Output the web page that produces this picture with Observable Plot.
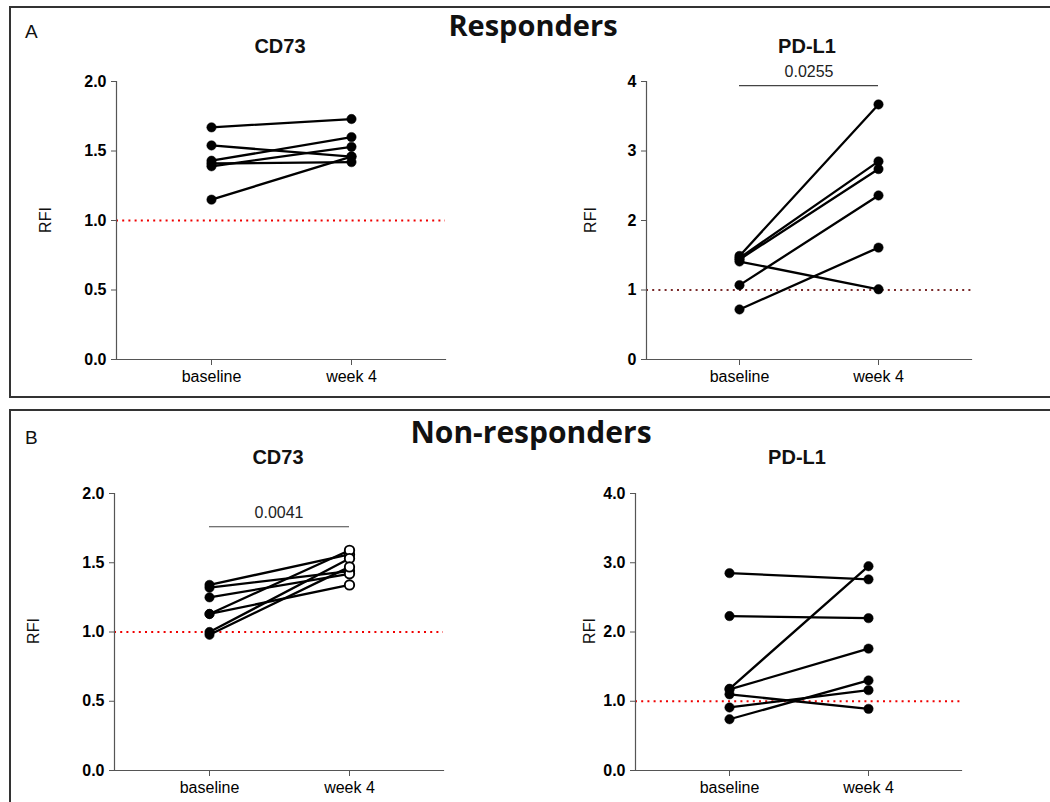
<!DOCTYPE html>
<html>
<head>
<meta charset="utf-8">
<script src="https://cdn.jsdelivr.net/npm/d3@7"></script>
<script src="https://cdn.jsdelivr.net/npm/@observablehq/plot@0.6"></script>
<style>
  html, body { margin: 0; padding: 0; background: #fff; }
  #figure { position: relative; width: 1050px; height: 802px; overflow: hidden; background: #fff;
            font-family: "Liberation Sans", Arial, sans-serif; }
  #figure > svg.panel { position: absolute; overflow: visible; }
  #overlay { position: absolute; left: 0; top: 0; }
</style>
</head>
<body>
<div id="figure"></div>
<script>
// Time points on the x axis
const timepoints = ["baseline", "week 4"];

// Responders: CD73 RFI per patient
const respCD73Baseline = [1.67, 1.54, 1.43, 1.41, 1.39, 1.15];
const respCD73Week4    = [1.73, 1.46, 1.60, 1.42, 1.53, 1.46];

// Responders: PD-L1 RFI per patient
const respPDL1Baseline = [1.49, 1.46, 1.44, 1.41, 1.07, 0.72];
const respPDL1Week4    = [3.67, 2.85, 2.74, 1.01, 2.36, 1.61];

// Non-responders: CD73 RFI per patient
const nonCD73Baseline = [1.34, 1.32, 1.25, 1.13, 1.13, 1.00, 0.98];
const nonCD73Week4    = [1.56, 1.44, 1.42, 1.59, 1.34, 1.53, 1.47];

// Non-responders: PD-L1 RFI per patient
const nonPDL1Baseline = [2.85, 2.23, 1.18, 1.17, 1.10, 0.91, 0.74];
const nonPDL1Week4    = [2.76, 2.20, 2.95, 1.76, 0.89, 1.16, 1.30];

// Paired-test p values
const pRespPDL1 = "0.0255";
const pNonCD73 = "0.0041";

// Y tick values
const ticksCD73 = [0, 0.5, 1, 1.5, 2];
const ticksPDL1 = [0, 1, 2, 3, 4];

function pairs(before, after) {
  const rows = [];
  before.forEach((v, i) => {
    rows.push({id: i, time: timepoints[0], rfi: v});
    rows.push({id: i, time: timepoints[1], rfi: after[i]});
  });
  return rows;
}

const fig = document.getElementById("figure");
const FONT = '"Liberation Sans", Arial, sans-serif';

function panel(o) {
  const rows = pairs(o.before, o.after);
  const marks = [
    Plot.ruleY([1], {stroke: o.refColor, strokeWidth: 2, strokeDasharray: "2,4.2"}),
    Plot.frame({anchor: "left", stroke: "#555", strokeWidth: 1.2}),
    Plot.frame({anchor: "bottom", stroke: "#555", strokeWidth: 1.2}),
    Plot.axisY({ticks: o.ticks, tickFormat: o.fmt, tickSize: 5, tickPadding: 5, stroke: "#555",
                fill: "black", fontSize: 16, fontWeight: "bold", label: null}),
    Plot.axisX({tickSize: 6, tickPadding: 5, stroke: "#555", fill: "black", fontSize: 16, label: null}),
    Plot.line(rows, {x: "time", y: "rfi", z: "id", stroke: "black", strokeWidth: 2.3}),
    Plot.dot(rows, {x: "time", y: "rfi", r: 4.7,
      fill: d => (o.openAfter && d.time === timepoints[1]) ? "white" : "black",
      stroke: "black", strokeWidth: d => (o.openAfter && d.time === timepoints[1]) ? 1.9 : 0.5})
  ];
  if (o.p) {
    const br = [{y: o.bracketY, a: timepoints[0], b: timepoints[1], label: o.p}];
    marks.push(Plot.ruleY(br, {y: "y", x1: "a", x2: "b", stroke: "#444", strokeWidth: 1.1}));
    marks.push(Plot.text(br, {y: "y", text: "label", dy: -14, fontSize: 16, fill: "#222"}));
  }
  const svg = Plot.plot({
    width: o.width, height: o.height,
    marginLeft: o.mL, marginRight: o.mR, marginTop: o.mT, marginBottom: o.mB,
    style: {fontFamily: FONT, background: "transparent", color: "black", overflow: "visible"},
    x: {type: "point", domain: timepoints, padding: 0.667},
    y: {domain: o.yDomain},
    marks
  });
  svg.classList.add("panel");
  svg.style.left = o.left + "px";
  svg.style.top = o.top + "px";
  fig.appendChild(svg);
}

// A – Responders
panel({before: respCD73Baseline, after: respCD73Week4, yDomain: [0, 2], ticks: ticksCD73, fmt: d3.format(".1f"),
  left: 60, top: 60, width: 400, height: 330, mL: 56, mR: 15, mT: 21, mB: 31, refColor: "#f00000"});
panel({before: respPDL1Baseline, after: respPDL1Week4, yDomain: [0, 4], ticks: ticksPDL1, fmt: d3.format("d"),
  left: 560, top: 60, width: 490, height: 330, mL: 86, mR: 79, mT: 21, mB: 31, refColor: "#7a2a2a",
  p: pRespPDL1, bracketY: 3.94});

// B – Non-responders
panel({before: nonCD73Baseline, after: nonCD73Week4, yDomain: [0, 2], ticks: ticksCD73, fmt: d3.format(".1f"),
  left: 60, top: 470, width: 400, height: 332, mL: 54, mR: 17, mT: 23, mB: 32, refColor: "#f00000",
  openAfter: true, p: pNonCD73, bracketY: 1.76});
panel({before: nonPDL1Baseline, after: nonPDL1Week4, yDomain: [0, 4], ticks: ticksPDL1, fmt: d3.format(".1f"),
  left: 560, top: 470, width: 490, height: 332, mL: 75, mR: 89, mT: 23, mB: 32, refColor: "#f00000"});

// Panel boxes, panel letters, group titles, marker titles and axis titles
const ov = d3.select(fig).append("svg").attr("id", "overlay")
  .attr("width", 1050).attr("height", 802).style("pointer-events", "none");

ov.append("rect").attr("x", 10).attr("y", 7).attr("width", 1100).attr("height", 390)
  .attr("fill", "none").attr("stroke", "#333").attr("stroke-width", 2);
ov.append("rect").attr("x", 10).attr("y", 410).attr("width", 1100).attr("height", 420)
  .attr("fill", "none").attr("stroke", "#333").attr("stroke-width", 2);

const texts = [
  {t: "A", x: 25, y: 38, size: 19, weight: "normal", anchor: "start", font: FONT},
  {t: "B", x: 25, y: 444, size: 19, weight: "normal", anchor: "start", font: FONT},
  {t: "Responders", x: 533, y: 36, size: 29, weight: "bold", anchor: "middle", font: '"Open Sans", sans-serif'},
  {t: "Non-responders", x: 531, y: 443, size: 30, weight: "bold", anchor: "middle", font: '"Open Sans", sans-serif'},
  {t: "CD73", x: 280, y: 53, size: 20, weight: "bold", anchor: "middle", font: FONT},
  {t: "PD-L1", x: 807, y: 53, size: 20, weight: "bold", anchor: "middle", font: FONT},
  {t: "CD73", x: 278, y: 464, size: 20, weight: "bold", anchor: "middle", font: FONT},
  {t: "PD-L1", x: 797, y: 464, size: 20, weight: "bold", anchor: "middle", font: FONT}
];
texts.forEach(d => {
  ov.append("text").attr("x", d.x).attr("y", d.y).text(d.t)
    .attr("font-family", d.font).attr("font-size", d.size).attr("font-weight", d.weight)
    .attr("text-anchor", d.anchor).attr("fill", "#111");
});

[{x: 45, y: 220}, {x: 590, y: 220}, {x: 33, y: 631}, {x: 589, y: 631}].forEach(d => {
  ov.append("text").attr("transform", `translate(${d.x + 6},${d.y}) rotate(-90)`)
    .attr("text-anchor", "middle").attr("font-family", FONT).attr("font-size", 16)
    .attr("fill", "#111").text("RFI");
});
</script>
</body>
</html>
